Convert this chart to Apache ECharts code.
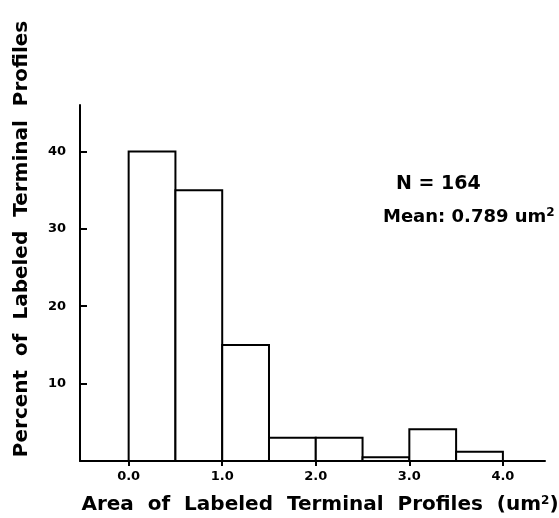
<!DOCTYPE html>
<html>
<head>
<meta charset="utf-8">
<script src="https://cdn.jsdelivr.net/npm/echarts@6/dist/echarts.min.js"></script>
<style>
html,body{margin:0;padding:0;background:#fff;}
#c{width:559px;height:518px;}
</style>
</head>
<body>
<div id="c"></div>
<script>
var binStart = [0.0, 0.5, 1.0, 1.5, 2.0, 2.5, 3.0, 3.5];
var binEnd   = [0.5, 1.0, 1.5, 2.0, 2.5, 3.0, 3.5, 4.0];
var percent  = [40, 35, 15, 3.0, 3.0, 0.5, 4.1, 1.2];
var xTicks = [0, 1, 2, 3, 4];
var xTickLabels = ['0.0', '1.0', '2.0', '3.0', '4.0'];
var yTicks = [10, 20, 30, 40];

var FONT = '"DejaVu Sans", sans-serif';
var data = binStart.map(function (s, i) { return [s, binEnd[i], percent[i]]; });

var chart = echarts.init(document.getElementById('c'), null, {renderer: 'canvas'});
chart.setOption({
  animation: false,
  backgroundColor: '#fff',
  grid: {left: 80, right: 14, top: 105, bottom: 57},
  xAxis: {
    type: 'value', min: -0.52, max: 4.45,
    splitLine: {show: false},
    axisLine: {show: true, onZero: false, lineStyle: {color: '#000', width: 2}},
    axisTick: {show: true, inside: false, length: 5, customValues: xTicks, lineStyle: {color: '#000', width: 2}},
    axisLabel: {
      customValues: xTicks, margin: 9, color: '#000', fontFamily: FONT, fontWeight: 'bold', fontSize: 13,
      formatter: function (v) { var i = xTicks.indexOf(v); return i >= 0 ? xTickLabels[i] : ''; }
    }
  },
  yAxis: {
    type: 'value', min: 0, max: 46,
    splitLine: {show: false},
    axisLine: {show: true, onZero: false, lineStyle: {color: '#000', width: 2}},
    axisTick: {show: true, inside: true, length: 7, customValues: yTicks, lineStyle: {color: '#000', width: 2}},
    axisLabel: {
      customValues: yTicks, margin: 14, color: '#000', fontFamily: FONT, fontWeight: 'bold', fontSize: 13
    }
  },
  series: [{
    type: 'custom',
    data: data,
    encode: {x: [0, 1], y: 2},
    renderItem: function (params, api) {
      var p0 = api.coord([api.value(0), api.value(2)]);
      var p1 = api.coord([api.value(1), 0]);
      return {
        type: 'rect',
        shape: {x: p0[0], y: p0[1], width: p1[0] - p0[0], height: p1[1] - p0[1]},
        style: {fill: '#fff', stroke: '#000', lineWidth: 2}
      };
    }
  }],
  graphic: [
    {type: 'text', left: 396, top: 175, style: {text: 'N = 164', fill: '#000', font: 'bold 19px ' + FONT}},
    {type: 'text', left: 383, top: 207, style: {
      text: 'Mean: 0.789 um{s|2}', fill: '#000', font: 'bold 18px ' + FONT,
      rich: {s: {fontSize: 12, fontWeight: 'bold', fontFamily: FONT, verticalAlign: 'top', padding: [0, 0, 8, 0]}}
    }},
    {type: 'text', x: 22, y: 239, rotation: Math.PI / 2, style: {
      text: 'Percent  of  Labeled  Terminal  Profiles', fill: '#000', font: 'bold 20px ' + FONT,
      align: 'center', verticalAlign: 'middle'
    }},
    {type: 'text', x: 320, y: 505, style: {
      text: 'Area  of  Labeled  Terminal  Profiles  (um{s|2})', fill: '#000', font: 'bold 20px ' + FONT,
      align: 'center', verticalAlign: 'middle',
      rich: {s: {fontSize: 12, fontWeight: 'bold', fontFamily: FONT, padding: [0, 0, 8, 0]}}
    }}
  ]
});
</script>
</body>
</html>
